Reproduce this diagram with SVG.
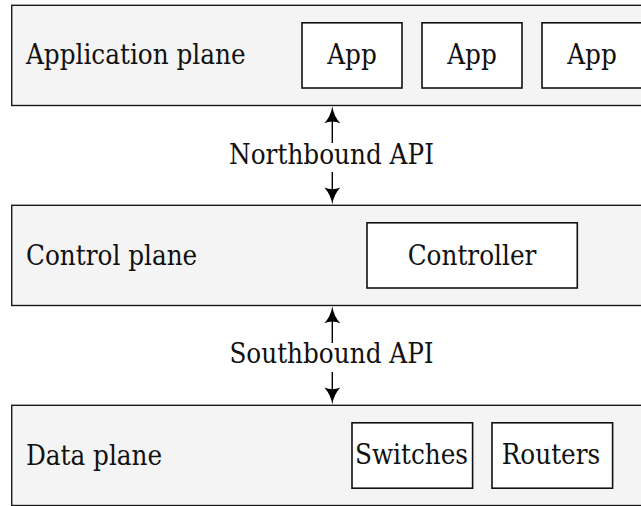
<svg xmlns="http://www.w3.org/2000/svg" width="641" height="506" viewBox="0 0 641 506">
  <style>
    .plane { fill: #f4f4f4; stroke: #1a1a1a; stroke-width: 1.4; }
    .box { fill: #ffffff; stroke: #111111; stroke-width: 1.6; }
    .lbl { font-family: "DejaVu Serif Condensed", "DejaVu Serif", serif; font-stretch: condensed; font-size: 27.5px; fill: #111111; }
    .mid { text-anchor: middle; }
    .wire { stroke: #000000; stroke-width: 1.4; fill: none; }
    .head { fill: #000000; }
  </style>
  <defs>
    <!-- LaTeX-style arrow tip pointing up, tip at the origin -->
    <path id="tip" d="M0,0 Q-1.5,10 -8,17 Q0,13.5 8,17 Q1.5,10 0,0 Z"/>
  </defs>

  <!-- application layer -->
  <g id="application-plane">
    <rect class="plane" x="11.7" y="5.3" width="640" height="100.2"/>
    <text class="lbl" x="26" y="64">Application plane</text>
  </g>
  <g id="app-1">
    <rect class="box" x="302" y="22.8" width="100" height="65.2"/>
    <text class="lbl mid" x="352" y="64">App</text>
  </g>
  <g id="app-2">
    <rect class="box" x="422" y="22.8" width="100" height="65.2"/>
    <text class="lbl mid" x="472" y="64">App</text>
  </g>
  <g id="app-3">
    <rect class="box" x="542" y="22.8" width="100" height="65.2"/>
    <text class="lbl mid" x="592" y="64">App</text>
  </g>

  <!-- control layer -->
  <g id="control-plane">
    <rect class="plane" x="11.7" y="205.3" width="640" height="100.2"/>
    <text class="lbl" x="26" y="265">Control plane</text>
  </g>
  <g id="controller">
    <rect class="box" x="367" y="222.8" width="210.3" height="65.2"/>
    <text class="lbl mid" x="472" y="265">Controller</text>
  </g>

  <!-- data layer -->
  <g id="data-plane">
    <rect class="plane" x="11.7" y="405.3" width="640" height="100.2"/>
    <text class="lbl" x="26" y="465">Data plane</text>
  </g>
  <g id="switches">
    <rect class="box" x="352" y="422.8" width="120.6" height="65.4"/>
    <text class="lbl mid" x="411.5" y="464">Switches</text>
  </g>
  <g id="routers">
    <rect class="box" x="492" y="422.8" width="120.6" height="65.4"/>
    <text class="lbl mid" x="551" y="464">Routers</text>
  </g>

  <!-- API connectors -->
  <g id="connectors">
    <line class="wire" x1="332.3" y1="143" x2="332.3" y2="115"/>
    <use class="head" href="#tip" x="332.3" y="106.2"/>
    <line class="wire" x1="332.3" y1="172" x2="332.3" y2="196"/>
    <use class="head" href="#tip" transform="translate(332.3 204.6) scale(1 -1)"/>
    <text class="lbl mid" x="331.5" y="164">Northbound API</text>
    <line class="wire" x1="332.3" y1="343" x2="332.3" y2="315"/>
    <use class="head" href="#tip" x="332.3" y="306.2"/>
    <line class="wire" x1="332.3" y1="372" x2="332.3" y2="396"/>
    <use class="head" href="#tip" transform="translate(332.3 404.6) scale(1 -1)"/>
    <text class="lbl mid" x="331.5" y="363">Southbound API</text>
  </g>
</svg>
